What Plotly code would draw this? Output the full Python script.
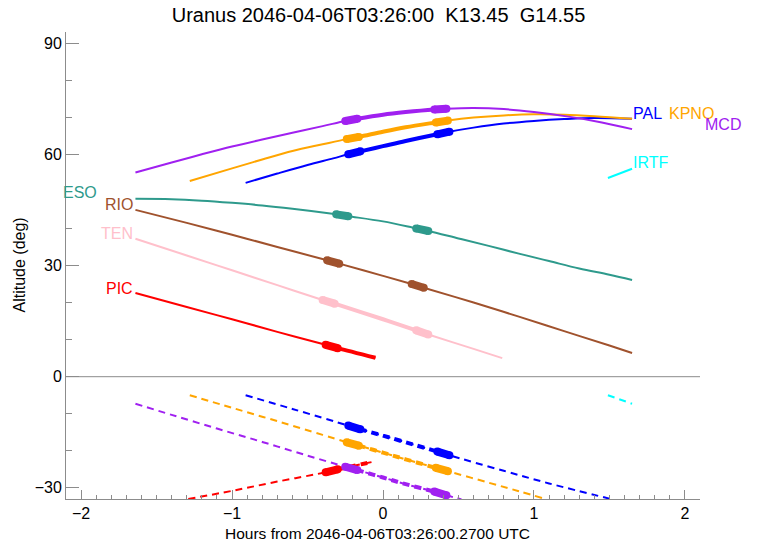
import plotly.graph_objects as go

TITLE = "Uranus 2046-04-06T03:26:00  K13.45  G14.55"
X_TITLE = "Hours from 2046-04-06T03:26:00.2700 UTC"
Y_TITLE = "Altitude (deg)"
X_TICKS = [-2, -1, 0, 1, 2]
Y_TICKS = [-30, 0, 30, 60, 90]
X_RANGE = [-2.1, 2.1]
Y_RANGE = [-33, 93]

# ---- target altitude (solid) and sun altitude (dashed) per station ----
PAL_H = [-0.91, -0.7, -0.5, -0.33, -0.23, -0.15, 0.0, 0.15, 0.36, 0.44, 0.6, 0.8, 1.0, 1.2, 1.4, 1.65]
PAL_ALT = [52.3, 54.8, 57.1, 58.9, 60.0, 60.8, 62.2, 63.6, 65.4, 66.1, 67.2, 68.3, 69.0, 69.5, 69.8, 69.6]
PAL_SUN_H = [-0.91, -0.6, -0.23, -0.15, 0.0, 0.2, 0.36, 0.44, 0.8, 1.1, 1.5]
PAL_SUN = [-5.0, -8.7, -13.2, -14.2, -15.9, -18.3, -20.2, -21.2, -25.4, -28.8, -32.9]

KPNO_H = [-1.28, -1.0, -0.8, -0.6, -0.4, -0.24, -0.16, 0.0, 0.15, 0.35, 0.43, 0.6, 0.8, 1.0, 1.2, 1.4, 1.65]
KPNO_ALT = [52.8, 56.2, 58.6, 60.9, 62.7, 64.1, 64.7, 66.1, 67.3, 68.6, 69.1, 69.9, 70.5, 70.8, 70.7, 70.3, 69.6]
KPNO_SUN_H = [-1.28, -1.0, -0.7, -0.4, -0.24, -0.16, 0.0, 0.15, 0.35, 0.43, 0.7, 0.9, 1.06]
KPNO_SUN = [-5.0, -8.4, -12.0, -15.7, -17.7, -18.6, -20.5, -22.3, -24.6, -25.5, -28.6, -30.9, -32.8]

MCD_H = [-1.64, -1.4, -1.2, -1.0, -0.8, -0.6, -0.4, -0.25, -0.17, 0.0, 0.15, 0.34, 0.42, 0.6, 0.8, 1.0, 1.24, 1.45, 1.65]
MCD_ALT = [55.1, 57.8, 60.0, 62.1, 64.0, 65.8, 67.6, 69.0, 69.6, 70.7, 71.4, 72.1, 72.3, 72.5, 72.2, 71.4, 70.1, 68.6, 66.8]
MCD_SUN_H = [-1.64, -1.4, -1.1, -0.8, -0.5, -0.25, -0.17, 0.0, 0.15, 0.34, 0.42, 0.52]
MCD_SUN = [-7.3, -10.3, -14.0, -17.6, -21.3, -24.3, -25.2, -27.2, -29.0, -31.0, -32.0, -33.1]

IRTF_H = [1.49, 1.65]
IRTF_ALT = [53.6, 56.1]
IRTF_SUN_H = [1.49, 1.65]
IRTF_SUN = [-5.0, -7.3]

ESO_H = [-1.64, -1.4, -1.2, -1.0, -0.8, -0.6, -0.31, -0.23, 0.0, 0.22, 0.30, 0.5, 0.7, 0.9, 1.1, 1.3, 1.5, 1.65]
ESO_ALT = [48.0, 47.9, 47.5, 46.9, 46.2, 45.3, 43.8, 43.3, 41.9, 40.0, 39.3, 37.3, 35.3, 33.2, 31.2, 29.2, 27.5, 26.1]

RIO_H = [-1.64, -1.3, -1.0, -0.7, -0.37, -0.29, 0.0, 0.19, 0.27, 0.6, 0.9, 1.2, 1.5, 1.65]
RIO_ALT = [45.0, 41.5, 38.3, 35.0, 31.4, 30.5, 27.2, 25.0, 24.0, 20.0, 16.2, 12.3, 8.4, 6.4]

TEN_H = [-1.64, -1.3, -1.0, -0.7, -0.40, -0.32, 0.0, 0.22, 0.30, 0.6, 0.79]
TEN_ALT = [37.2, 32.7, 28.7, 24.7, 20.7, 19.7, 15.5, 12.5, 11.4, 7.5, 5.0]

PIC_H = [-1.64, -1.3, -1.0, -0.7, -0.38, -0.30, -0.05]
PIC_ALT = [22.6, 18.8, 15.5, 12.1, 8.6, 7.7, 5.1]
PIC_SUN_H = [-1.29, -1.0, -0.7, -0.38, -0.30, -0.07]
PIC_SUN = [-33.0, -30.8, -28.3, -25.8, -25.0, -23.0]

# time windows (hours): marked intervals and the thicker span
PAL_MARKS = [(-0.23, -0.15), (0.36, 0.44)]
KPNO_MARKS = [(-0.24, -0.16), (0.35, 0.43)]
MCD_MARKS = [(-0.25, -0.17), (0.34, 0.42)]
ESO_MARKS = [(-0.31, -0.23), (0.22, 0.30)]
RIO_MARKS = [(-0.37, -0.29), (0.19, 0.27)]
TEN_MARKS = [(-0.40, -0.32), (0.22, 0.30)]
PIC_MARKS = [(-0.38, -0.30)]

PAL_SPAN = (-0.23, 0.44)
KPNO_SPAN = (-0.24, 0.43)
MCD_SPAN = (-0.25, 0.42)
TEN_SPAN = (-0.40, 0.30)
PIC_SPAN = (-0.38, -0.05)

COLORS = {
    "PAL": "#0000FF", "KPNO": "#FFA500", "MCD": "#A020F0", "IRTF": "#00FFFF",
    "ESO": "#2E9A8C", "RIO": "#A0522D", "TEN": "#FFC0CB", "PIC": "#FF0000",
}

stations = [
    # name, h, alt, sun_h, sun, marks, span, label side, label shift
    ("PIC", PIC_H, PIC_ALT, PIC_SUN_H, PIC_SUN, PIC_MARKS, PIC_SPAN, "left", (-1, 4)),
    ("TEN", TEN_H, TEN_ALT, None, None, TEN_MARKS, TEN_SPAN, "left", (-1, 5)),
    ("RIO", RIO_H, RIO_ALT, None, None, RIO_MARKS, None, "left", (-1, 5)),
    ("ESO", ESO_H, ESO_ALT, None, None, ESO_MARKS, None, "left", (-37, 6)),
    ("IRTF", IRTF_H, IRTF_ALT, IRTF_SUN_H, IRTF_SUN, [], None, "right", (0, 6)),
    ("PAL", PAL_H, PAL_ALT, PAL_SUN_H, PAL_SUN, PAL_MARKS, PAL_SPAN, "right", (0, 5)),
    ("KPNO", KPNO_H, KPNO_ALT, KPNO_SUN_H, KPNO_SUN, KPNO_MARKS, KPNO_SPAN, "right", (36, 5)),
    ("MCD", MCD_H, MCD_ALT, MCD_SUN_H, MCD_SUN, MCD_MARKS, MCD_SPAN, "right", (72, 5)),
]

FONT = "Liberation Sans, Arial, Helvetica, sans-serif"
GRAY = "#8c8c8c"
fig = go.Figure()


def sub(h, v, lo, hi):
    xs, ys = [], []
    for a, b in zip(h, v):
        if lo - 1e-9 <= a <= hi + 1e-9:
            xs.append(a)
            ys.append(b)
    return xs, ys


def add_series(h, v, color, dash, marks, span):
    fig.add_trace(go.Scatter(x=h, y=v, mode="lines",
                             line=dict(color=color, width=2, dash=dash, shape="spline", smoothing=1),
                             hoverinfo="skip", showlegend=False))
    if span is not None:
        xs, ys = sub(h, v, span[0], span[1])
        fig.add_trace(go.Scatter(x=xs, y=ys, mode="lines",
                                 line=dict(color=color, width=4, dash=dash, shape="spline", smoothing=1),
                                 hoverinfo="skip", showlegend=False))
    for lo, hi in marks:
        xs, ys = sub(h, v, lo, hi)
        fig.add_trace(go.Scatter(x=xs, y=ys, mode="lines+markers",
                                 line=dict(color=color, width=8),
                                 marker=dict(color=color, size=8, line=dict(width=0)),
                                 hoverinfo="skip", showlegend=False))


annotations = []
for name, h, alt, sh, sv, marks, span, side, (dx, dy) in stations:
    c = COLORS[name]
    if sh is not None:
        add_series(sh, sv, c, "7px,5px", marks, span)
    add_series(h, alt, c, "solid", marks, span)
    if side == "left":
        annotations.append(dict(x=h[0], y=alt[0], xref="x", yref="y", text=name, showarrow=False,
                                xanchor="right", yanchor="middle", xshift=dx, yshift=dy,
                                font=dict(color=c, size=16, family=FONT), borderpad=0))
    else:
        annotations.append(dict(x=h[-1], y=alt[-1], xref="x", yref="y", text=name, showarrow=False,
                                xanchor="left", yanchor="middle", xshift=dx, yshift=dy,
                                font=dict(color=c, size=16, family=FONT), borderpad=0))

# axis titles as annotations (fixed placement)
annotations.append(dict(x=0.492, y=0, xref="paper", yref="paper", text=X_TITLE, showarrow=False,
                        xanchor="center", yanchor="middle", yshift=-34,
                        font=dict(size=15.5, color="black", family=FONT)))
annotations.append(dict(x=0, y=0.5, xref="paper", yref="paper", text=Y_TITLE, showarrow=False,
                        xanchor="center", yanchor="middle", xshift=-47, textangle=-90,
                        font=dict(size=16, color="black", family=FONT)))

axis_common = dict(showgrid=False, showline=True, linecolor=GRAY, linewidth=1, automargin=False,
                   ticks="inside", tickcolor=GRAY, tickwidth=1, zeroline=False,
                   tickfont=dict(size=16, color="black", family=FONT))

fig.update_layout(
    width=757, height=544,
    margin=dict(l=66, r=57, t=32, b=45, autoexpand=False),
    paper_bgcolor="white", plot_bgcolor="white",
    title=dict(text=TITLE, x=0.5, xanchor="center", y=0.985, yanchor="top",
               font=dict(size=20, color="black", family=FONT)),
    xaxis=dict(range=X_RANGE, tickvals=X_TICKS, ticklen=9,
               minor=dict(dtick=0.1, ticklen=4, ticks="inside", tickcolor=GRAY),
               **axis_common),
    xaxis2=dict(range=X_RANGE, overlaying="x", side="top", tickvals=X_TICKS, ticklen=9,
                showticklabels=False,
                minor=dict(dtick=0.1, ticklen=4, ticks="inside", tickcolor=GRAY),
                **axis_common),
    yaxis=dict(range=Y_RANGE, tickvals=Y_TICKS, ticklen=13,
               minor=dict(dtick=10, ticklen=6, ticks="inside", tickcolor=GRAY),
               **axis_common),
    yaxis2=dict(range=Y_RANGE, overlaying="y", side="right", tickvals=Y_TICKS, ticklen=13,
                showticklabels=False,
                minor=dict(dtick=10, ticklen=6, ticks="inside", tickcolor=GRAY),
                **axis_common),
    shapes=[dict(type="line", xref="paper", yref="y", x0=0, x1=1, y0=0, y1=0,
                 line=dict(color=GRAY, width=1), layer="below")],
    annotations=annotations,
    showlegend=False,
)

fig.write_html("out.html", config={"displayModeBar": False, "staticPlot": True},
               post_script="document.body.style.margin='0';")
